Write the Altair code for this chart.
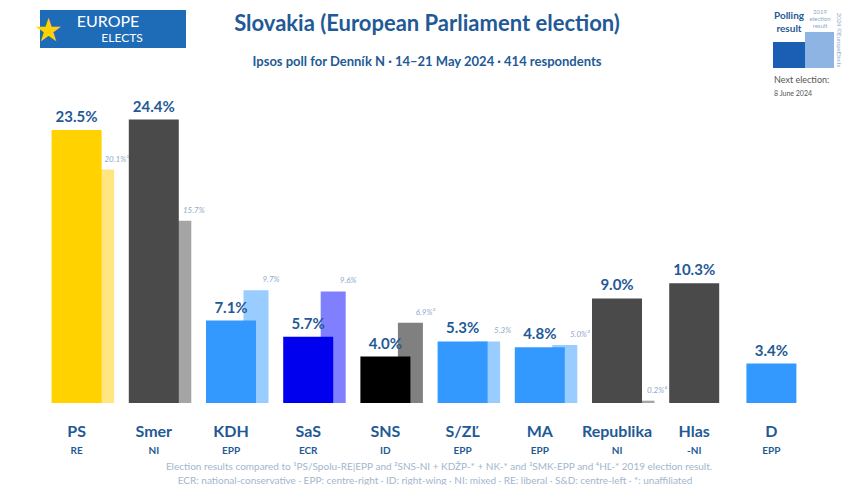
import altair as alt
import pandas as pd

parties = ["PS", "Smer", "KDH", "SaS", "SNS", "S/ZĽ", "MA", "Republika", "Hlas", "D"]
groups = ["RE", "NI", "EPP", "ECR", "ID", "EPP", "EPP", "NI", "-NI", "EPP"]
poll = [23.5, 24.4, 7.1, 5.7, 4.0, 5.3, 4.8, 9.0, 10.3, 3.4]
prev = [20.1, 15.7, 9.7, 9.6, 6.9, 5.3, 5.0, 0.2, None, None]
prev_labels = ["20.1%¹", "15.7%", "9.7%", "9.6%", "6.9%²", "5.3%", "5.0%³", "0.2%⁴", "", ""]
main_colors = ["#FFD200", "#4A4A4A", "#3399FF", "#0000EE", "#000000",
               "#3399FF", "#3399FF", "#4A4A4A", "#4A4A4A", "#3399FF"]
prev_colors = ["#FFE680", "#A5A5A5", "#99CCFF", "#8080FF", "#808080",
               "#99CCFF", "#99CCFF", "#A5A5A5", "#FFFFFF", "#FFFFFF"]

BLUE = "#1F5A96"
FONT = "Lato"

df = pd.DataFrame({
    "party": parties, "group": groups, "poll": poll, "prev": prev,
    "prev_label": prev_labels, "main_color": main_colors, "prev_color": prev_colors,
})
df["poll_label"] = [f"{v:.1f}%" for v in poll]

W, H = 772, 302
x = alt.X("party:N", sort=parties,
          scale=alt.Scale(paddingInner=0, paddingOuter=0),
          axis=alt.Axis(title=None, domain=False, ticks=False, labelAngle=0,
                        labelFontSize=16, labelFontWeight="bold", labelColor=BLUE,
                        labelFont=FONT, labelPadding=20))
yscale = alt.Scale(domain=[0, 26])

base = alt.Chart(df)

prev_bars = base.transform_filter("datum.prev != null").mark_bar(size=25, xOffset=25).encode(
    x=x,
    y=alt.Y("prev:Q", scale=yscale, axis=None),
    color=alt.Color("prev_color:N", scale=None),
)
main_bars = base.mark_bar(size=50).encode(
    x=x,
    y=alt.Y("poll:Q", scale=yscale, axis=None),
    color=alt.Color("main_color:N", scale=None),
)
main_text = base.mark_text(baseline="bottom", dy=-5, fontSize=15, fontWeight="bold",
                           color=BLUE, font=FONT).encode(
    x=x, y=alt.Y("poll:Q", scale=yscale), text="poll_label:N")
prev_text = base.transform_filter("datum.prev != null").mark_text(
    baseline="bottom", dy=-6, dx=40, fontSize=8, fontStyle="italic",
    color="#8FAACB", font=FONT).encode(
    x=x, y=alt.Y("prev:Q", scale=yscale), text="prev_label:N")
group_text = base.mark_text(fontSize=10, fontWeight="bold", color=BLUE, font=FONT).encode(
    x=x, y=alt.value(H + 48), text="group:N")

one = pd.DataFrame({"k": [0]})


def txt(t, px, py, size, color=BLUE, weight="normal", align="center", style="normal", angle=0):
    return alt.Chart(one).mark_text(
        text=t, fontSize=size, color=color, fontWeight=weight, align=align,
        fontStyle=style, font=FONT, angle=angle, baseline="middle",
    ).encode(x=alt.value(px), y=alt.value(py))


def rect(x1, y1, x2, y2, color):
    return alt.Chart(one).mark_rect(color=color).encode(
        x=alt.value(x1), x2=alt.value(x2), y=alt.value(y1), y2=alt.value(y2))


# page coordinate -> plot coordinate offsets
OX, OY = 38, 101

deco = [
    txt("Slovakia (European Parliament election)", 427 - OX, 24 - OY, 22, weight="bold"),
    txt("Ipsos poll for Denník N · 14–21 May 2024 · 414 respondents", 427 - OX, 62 - OY, 13, weight="bold"),
    # logo
    rect(40 - OX, 10 - OY, 186 - OX, 48 - OY, "#1E6BB8"),
    txt("★", 48 - OX, 31 - OY, 32, color="#FFD200"),
    txt("EUROPE", 108 - OX, 22 - OY, 16, color="white"),
    txt("ELECTS", 122 - OX, 38 - OY, 12, color="white"),
    # legend
    txt("Polling", 789 - OX, 16 - OY, 10, weight="bold"),
    txt("result", 789 - OX, 29 - OY, 10, weight="bold"),
    txt("2019", 820 - OX, 12 - OY, 6, color="#8FAACB"),
    txt("election", 820 - OX, 19 - OY, 6, color="#8FAACB"),
    txt("result", 820 - OX, 26 - OY, 6, color="#8FAACB"),
    rect(805 - OX, 32 - OY, 834 - OX, 68 - OY, "#8DB4E2"),
    rect(773 - OX, 42 - OY, 805 - OX, 68 - OY, "#1A5FB4"),
    txt("Next election:", 774 - OX, 80 - OY, 9, color="#555555", align="left"),
    txt("8 June 2024", 774 - OX, 94 - OY, 7, color="#555555", align="left"),
    txt("2024 ©EuropeElects", 839 - OX, 40 - OY, 6, color="#8FAACB", angle=90),
    # footnotes
    txt("Election results compared to ¹PS/Spolu-RE|EPP and ²SNS-NI + KDŽP-* + NK-* and ³SMK-EPP and ⁴HĽ-* 2019 election result.",
        439 - OX, 467 - OY, 10, color="#A3B6CC"),
    txt("ECR: national-conservative · EPP: centre-right · ID: right-wing · NI: mixed · RE: liberal · S&D: centre-left · *: unaffiliated",
        435 - OX, 481 - OY, 10, color="#A3B6CC"),
    rect(-OX - 8, 489 - OY, 850 - OX, 493 - OY, "#4A4A4A"),
]

chart = alt.layer(prev_bars, main_bars, main_text, prev_text, group_text, *deco).properties(
    width=W, height=H,
    background="white",
    autosize=alt.AutoSizeParams(type="none"),
    padding={"left": 30, "top": 93, "right": 32, "bottom": 82},
).configure_view(strokeWidth=0, stroke="transparent")

chart.save("out.html", embed_options={"renderer": "svg", "actions": False})
